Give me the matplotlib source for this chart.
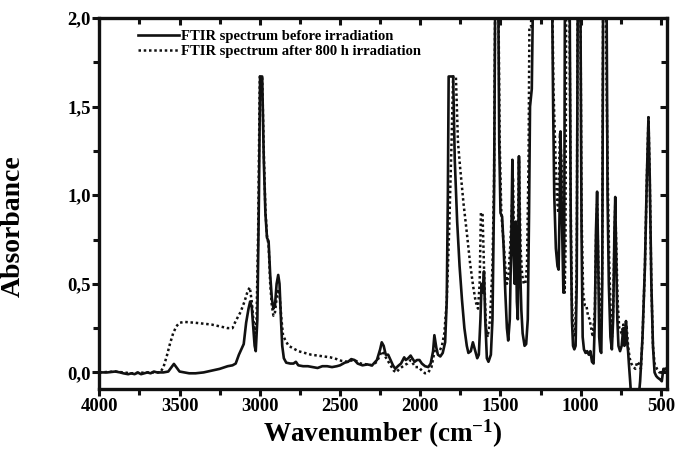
import matplotlib
matplotlib.use('Agg')
import matplotlib.pyplot as plt
from matplotlib.ticker import MultipleLocator, FuncFormatter

# spectrum before irradiation (solid), wavenumber in cm-1 / absorbance
before_wn = [4000, 3950, 3900, 3870, 3850, 3820, 3800, 3780, 3760, 3740, 3720, 3700, 3680, 3660,
             3640, 3600, 3570, 3550, 3535, 3520, 3500, 3470, 3440, 3400, 3350, 3300, 3250, 3200,
             3170, 3150, 3130, 3115, 3100, 3085, 3070, 3060, 3050, 3040, 3032, 3025, 3015, 3005,
             2998, 2985, 2975, 2965, 2955, 2945, 2935, 2925, 2915, 2905, 2895, 2885, 2877, 2868,
             2860, 2850, 2835, 2810, 2790, 2775, 2760, 2730, 2700, 2670, 2640, 2610, 2580, 2550,
             2520, 2500, 2470, 2450, 2430, 2410, 2390, 2360, 2330, 2300, 2270, 2250, 2240, 2228,
             2215, 2200, 2185, 2170, 2155, 2140, 2120, 2100, 2090, 2075, 2060, 2050, 2035, 2020,
             2005, 1990, 1970, 1950, 1935, 1920, 1912, 1900, 1890, 1875, 1860, 1845, 1835, 1828,
             1823, 1795, 1785, 1770, 1755, 1740, 1725, 1710, 1700, 1685, 1672, 1660, 1645, 1635,
             1625, 1618, 1610, 1603, 1595, 1585, 1575, 1560, 1550, 1540, 1532, 1515, 1508, 1500,
             1490, 1480, 1470, 1460, 1452, 1442, 1432, 1426, 1420, 1412, 1405, 1398, 1392, 1385,
             1378, 1370, 1362, 1350, 1340, 1330, 1322, 1316, 1305, 1295, 1180, 1172, 1165, 1155,
             1145, 1138, 1132, 1126, 1118, 1108, 1103, 1098, 1070, 1062, 1055, 1048, 1040, 1032,
             1025, 1018, 1003, 995, 988, 980, 970, 960, 950, 940, 930, 920, 912, 905, 898, 892,
             885, 878, 872, 866, 860, 840, 833, 825, 815, 806, 798, 790, 785, 780, 772, 765, 755,
             745, 735, 728, 718, 712, 705, 700, 692, 685, 640, 630, 615, 600, 588, 578, 570, 560,
             550, 540, 530, 520, 505, 495, 485, 470, 460]
before_abs = [0.0, 0.0, 0.005, 0.0, -0.005, -0.01, -0.005, -0.01, 0.0, -0.01, -0.005, 0.0, -0.005, 0.005,
              0.0, 0.0, 0.005, 0.03, 0.048, 0.03, 0.005, 0.0, -0.005, -0.005, 0.0, 0.01, 0.02, 0.035,
              0.04, 0.05, 0.1, 0.13, 0.16, 0.28, 0.36, 0.40, 0.37, 0.25, 0.15, 0.12, 0.3, 1.0,
              1.67, 1.67, 1.2, 0.9, 0.76, 0.74, 0.55, 0.42, 0.36, 0.38, 0.5, 0.55, 0.5, 0.3,
              0.15, 0.08, 0.055, 0.05, 0.05, 0.06, 0.04, 0.035, 0.035, 0.03, 0.025, 0.035, 0.035, 0.03,
              0.035, 0.04, 0.055, 0.06, 0.075, 0.07, 0.05, 0.04, 0.045, 0.04, 0.07, 0.13, 0.17, 0.15,
              0.1, 0.1, 0.07, 0.04, 0.02, 0.035, 0.05, 0.085, 0.07, 0.08, 0.095, 0.08, 0.06, 0.07,
              0.07, 0.05, 0.035, 0.03, 0.05, 0.12, 0.21, 0.14, 0.1, 0.09, 0.11, 0.17, 0.4, 1.0,
              1.67, 1.67, 1.2, 0.85, 0.6, 0.41, 0.25, 0.15, 0.11, 0.12, 0.17, 0.13, 0.08, 0.1,
              0.3, 0.5, 0.45, 0.57, 0.3, 0.08, 0.06, 0.1, 0.3, 1.0, 2.3, 2.3, 1.3, 0.9,
              0.88, 0.7, 0.45, 0.25, 0.18, 0.3, 0.8, 1.2, 0.7, 0.5, 0.85, 0.4, 0.3, 1.22,
              0.6, 0.35, 0.22, 0.15, 0.16, 0.3, 0.9, 1.5, 1.6, 2.3, 2.3, 1.5, 1.0, 0.7,
              0.6, 0.58, 0.9, 1.36, 0.9, 0.45, 0.7, 2.3, 2.3, 0.8, 0.3, 0.15, 0.13, 0.15,
              0.5, 2.3, 2.3, 0.8, 0.2, 0.13, 0.11, 0.12, 0.1, 0.12, 0.06, 0.05, 0.3, 0.8, 1.02, 0.7,
              0.2, 0.12, 0.11, 0.5, 2.3, 2.3, 1.0, 0.5, 0.2, 0.13, 0.3, 0.8, 0.99, 0.7, 0.3, 0.15, 0.12,
              0.15, 0.25, 0.15, 0.29, 0.18, 0.12, 0.05, -0.05, -0.15, -0.15, -0.05, 0.2, 0.6, 1.1, 1.44, 1.1, 0.5,
              0.15, 0.0, -0.02, -0.03, -0.04, -0.05, 0.02, 0.02, 0.03]

# spectrum after 800 h irradiation (dotted)
after_wn = [4000, 3900, 3800, 3700, 3620, 3600, 3580, 3560, 3540, 3520, 3500, 3470, 3400, 3350,
            3300, 3250, 3200, 3170, 3150, 3120, 3095, 3075, 3062, 3050, 3040, 3030, 3020, 3010,
            3000, 2985, 2975, 2965, 2955, 2945, 2935, 2925, 2915, 2905, 2895, 2885, 2875, 2865,
            2855, 2840, 2820, 2800, 2760, 2720, 2680, 2640, 2600, 2560, 2520, 2490, 2450, 2420,
            2400, 2370, 2330, 2300, 2270, 2250, 2238, 2225, 2205, 2185, 2165, 2150, 2130, 2100,
            2080, 2060, 2045, 2030, 2010, 1990, 1970, 1950, 1930, 1915, 1905, 1895, 1880, 1865,
            1850, 1835, 1820, 1805, 1795, 1778, 1765, 1752, 1730, 1710, 1690, 1671, 1655, 1640,
            1630, 1622, 1612, 1600, 1590, 1580, 1565, 1550, 1540, 1532, 1515, 1505, 1495, 1482,
            1470, 1460, 1450, 1440, 1430, 1422, 1415, 1405, 1395, 1385, 1375, 1365, 1355, 1345,
            1335, 1325, 1320, 1310, 1300, 1180, 1170, 1160, 1150, 1140, 1130, 1120, 1110, 1100,
            1095, 1090, 1072, 1062, 1055, 1045, 1035, 1025, 1018, 1003, 995, 985, 975, 965, 955,
            945, 935, 925, 912, 905, 898, 890, 882, 875, 866, 860, 845, 838, 830, 822, 812, 805,
            798, 790, 785, 778, 770, 760, 745, 735, 725, 715, 705, 695, 685, 670, 660, 648, 638,
            625, 615, 600, 588, 578, 570, 560, 550, 540, 525, 510, 495, 470, 460]
after_abs = [0.0, 0.005, -0.005, 0.0, 0.0, 0.03, 0.09, 0.16, 0.22, 0.26, 0.28, 0.285, 0.28, 0.275,
             0.27, 0.26, 0.25, 0.25, 0.29, 0.34, 0.4, 0.46, 0.48, 0.4, 0.3, 0.22, 0.3, 0.8,
             1.67, 1.67, 1.25, 0.92, 0.77, 0.72, 0.5, 0.38, 0.32, 0.34, 0.42, 0.47, 0.42, 0.3,
             0.21, 0.18, 0.15, 0.14, 0.12, 0.11, 0.1, 0.095, 0.09, 0.085, 0.075, 0.065, 0.06, 0.07,
             0.065, 0.05, 0.045, 0.04, 0.06, 0.1, 0.12, 0.1, 0.07, 0.04, 0.01, 0.0, 0.02, 0.04,
             0.05, 0.07, 0.05, 0.03, 0.03, 0.01, -0.005, 0.0, 0.03, 0.1, 0.15, 0.12, 0.12, 0.15,
             0.22, 0.4, 0.8, 1.3, 1.67, 1.67, 1.3, 1.16, 0.95, 0.79, 0.62, 0.49, 0.4, 0.36,
             0.5, 0.9, 0.9, 0.5, 0.25, 0.2, 0.3, 0.6, 1.1, 2.3, 2.3, 1.3, 0.9, 0.75,
             0.6, 0.5, 0.55, 0.7, 0.9, 1.1, 0.7, 0.85, 0.6, 1.2, 0.7, 0.55, 0.5, 0.5,
             0.6, 1.2, 1.95, 1.95, 2.3, 2.3, 1.6, 1.3, 1.0, 0.9, 1.35, 1.2, 0.8, 0.45,
             0.7, 2.3, 2.3, 0.9, 0.4, 0.2, 0.2, 0.6, 2.3, 2.3, 0.9, 0.45, 0.38, 0.38, 0.32,
             0.3, 0.25, 0.2, 0.35, 0.75, 0.95, 0.6, 0.3, 0.25, 0.6, 2.3, 2.3, 1.55, 1.0, 0.6, 0.3, 0.2,
             0.35, 0.75, 0.95, 0.7, 0.4, 0.25, 0.22, 0.27, 0.22, 0.27, 0.15, 0.08, 0.05, 0.03, 0.02, 0.06, 0.05,
             0.02, 0.2, 0.6, 1.1, 1.44, 1.1, 0.5, 0.15, 0.05, 0.02, 0.0, 0.0, 0.02, 0.03]

plt.rcParams['font.family'] = 'Liberation Serif'
plt.rcParams['font.weight'] = 'bold'
plt.rcParams['mathtext.fontset'] = 'custom'
plt.rcParams['mathtext.rm'] = 'Liberation Serif:bold'
plt.rcParams['mathtext.default'] = 'rm'

fig = plt.figure(figsize=(6.8, 4.5), dpi=100)
ax = fig.add_axes([0.146, 0.135, 0.835, 0.825])

ax.plot(before_wn, before_abs, color='#111111', linewidth=1.9,
        label='FTIR spectrum before irradiation')
ax.plot(after_wn, after_abs, color='#111111', linewidth=1.8, linestyle=(0, (1, 1.1)),
        label='FTIR spectrum after 800 h irradiation')

ax.set_xlim(4000, 462)
ax.set_ylim(-0.095, 2.0)

ax.xaxis.set_major_locator(MultipleLocator(500))
ax.xaxis.set_minor_locator(MultipleLocator(250))
ax.yaxis.set_major_locator(MultipleLocator(0.5))
ax.yaxis.set_minor_locator(MultipleLocator(0.25))
ax.yaxis.set_major_formatter(FuncFormatter(lambda v, p: f'{v:.1f}'.replace('.', ',')))

for s in ax.spines.values():
    s.set_linewidth(2.4)
    s.set_color('#111111')

# bottom/left ticks out, top/right ticks in
ax.tick_params(which='both', direction='out', top=True, right=True, width=2.2, color='#111111')
ax.tick_params(which='major', length=5, labelsize=13.5, pad=1)
ax.tick_params(which='minor', length=4)
for t in ax.xaxis.get_major_ticks() + ax.xaxis.get_minor_ticks():
    t.tick2line.set_marker(3)
for t in ax.yaxis.get_major_ticks() + ax.yaxis.get_minor_ticks():
    t.tick2line.set_marker(0)

ax.set_xlabel('Wavenumber (cm$^{-1}$)', fontsize=19.5, fontweight='bold', labelpad=2)
ax.set_ylabel('Absorbance', fontsize=20, fontweight='bold')
ax.yaxis.set_label_coords(-0.13, 0.44)

ax.legend(loc='upper left', bbox_to_anchor=(0.058, 0.985), frameon=False, fontsize=10.5,
          handlelength=2.8, handletextpad=0.15, labelspacing=0.15, borderaxespad=0)

fig.savefig('out.png', dpi=100)
